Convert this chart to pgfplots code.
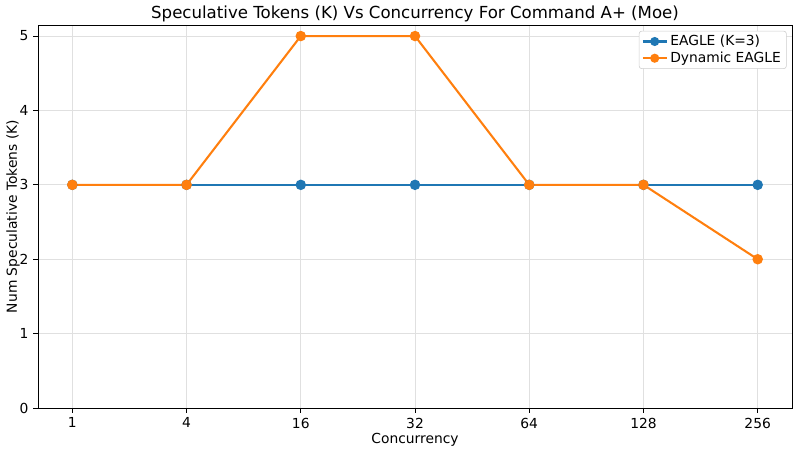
\documentclass[border=0pt]{standalone}
\usepackage{fontspec}
\setmainfont{DejaVu Sans}
\usepackage{pgfplots}
\pgfplotsset{compat=1.18}
\definecolor{tabblue}{HTML}{1F77B4}
\definecolor{taborange}{HTML}{FF7F0E}
\begin{document}
\fontsize{10}{12}\selectfont
\begin{tikzpicture}
\useasboundingbox (-27.5pt,-32.5pt) rectangle (550.7pt,294.9pt);
\begin{axis}[
  at={(0,0)}, anchor=south west,
  scale only axis, width=544.9pt, height=276.8pt,
  xmin=-0.3, xmax=6.3, ymin=0, ymax=5.148,
  xtick={0,1,2,3,4,5,6},
  xticklabels={1,4,16,32,64,128,256},
  ytick={0,1,2,3,4,5},
  /pgf/number format/assume math mode=true,
  tick label style={font=\fontsize{10}{12}\selectfont},
  label style={font=\fontsize{10}{12}\selectfont},
  title style={font=\fontsize{12}{14}\selectfont, at={(0.5,1)}, anchor=base, inner sep=0pt, yshift=-1pt},
  title={Speculative Tokens (K) Vs Concurrency For Command A+ (Moe)},
  xlabel={Concurrency}, ylabel={Num Speculative Tokens (K)},
  xlabel style={yshift=3pt}, ylabel style={yshift=-7pt},
  tick align=outside, major tick length=3.5pt,
  xtick pos=bottom, ytick pos=left,
  tick style={black, line width=0.6pt},
  axis line style={line width=0.6pt},
  grid=major, grid style={black!12, line width=0.5pt},
  legend style={font=\fontsize{10}{12}\selectfont, draw=black!20, rounded corners=2pt, inner xsep=2pt, inner ysep=1pt, row sep=-1pt, at={(0.993,0.985)}, anchor=north east},
  legend cell align=left,
  legend image code/.code={\draw[#1] (0cm,0cm) -- (0.6cm,0cm); \draw[#1, mark repeat=1, mark size=2.5pt] plot coordinates {(0.3cm,0cm)};},
]
\addplot[tabblue, line width=1.5pt, mark=*, mark size=3pt, mark options={solid}] coordinates {(0,3) (1,3) (2,3) (3,3) (4,3) (5,3) (6,3)};
\addlegendentry{EAGLE (K=3)}
\addplot[taborange, line width=1.5pt, mark=*, mark size=3pt, mark options={solid}] coordinates {(0,3) (1,3) (2,5) (3,5) (4,3) (5,3) (6,2)};
\addlegendentry{Dynamic EAGLE}
\end{axis}
\end{tikzpicture}
\end{document}
